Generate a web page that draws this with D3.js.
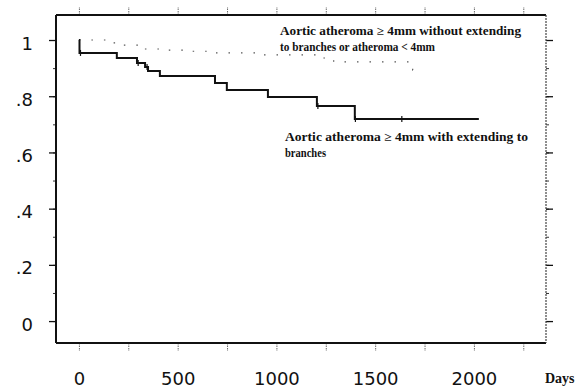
<!DOCTYPE html>
<html>
<head>
<meta charset="utf-8">
<script src="https://cdn.jsdelivr.net/npm/d3@7"></script>
<style>
  body { margin: 0; background: #fff; }
  svg { display: block; }
</style>
</head>
<body>
<svg id="chart" width="583" height="388"></svg>
<script>
// survival curves
var daysExt = [0, 3, 192, 294, 335, 350, 410, 689, 749, 957, 1205, 1397, 2025];
var survExt = [1, 0.954, 0.936, 0.918, 0.904, 0.89, 0.872, 0.847, 0.822, 0.797, 0.765, 0.719, 0.719];
var censorExt = [8, 300, 345, 1210, 1400, 1635];

var daysNoExt = [0, 150, 200, 330, 450, 560, 650, 930, 1195, 1290, 1690, 1740];
var survNoExt = [1, 0.99, 0.982, 0.968, 0.964, 0.96, 0.954, 0.947, 0.936, 0.922, 0.893, 0.893];

var xTicks = [0, 500, 1000, 1500, 2000];
var xMinor = [0, 250, 500, 750, 1000, 1250, 1500, 1750, 2000, 2250];
var yTicks = [0, 0.2, 0.4, 0.6, 0.8, 1];
var yTickLabels = ["0", ".2", ".4", ".6", ".8", "1"];
var yMinor = [0, 0.1, 0.2, 0.3, 0.4, 0.5, 0.6, 0.7, 0.8, 0.9, 1];

var labelNoExt = ["Aortic atheroma \u2265 4mm without extending", "to branches or atheroma < 4mm"];
var labelExt = ["Aortic atheroma \u2265 4mm with extending to", "branches"];

var svg = d3.select("#chart");
var plotLeft = 56, plotRight = 546, plotTop = 15, plotBottom = 343;

var x = d3.scaleLinear().domain([-116, 2365]).range([plotLeft, plotRight]);
var y = d3.scaleLinear().domain([-0.078, 1.089]).range([plotBottom, plotTop]);

// minor ticks, all four sides
svg.append("g")
    .attr("transform", "translate(0," + plotBottom + ")")
    .call(d3.axisBottom(x).tickValues(xMinor).tickSize(8).tickFormat(""))
    .call(function (g) { g.select(".domain").remove(); })
    .selectAll("line").attr("stroke", "#666").attr("stroke-dasharray", "1.5,1");

svg.append("g")
    .attr("transform", "translate(0," + plotTop + ")")
    .call(d3.axisTop(x).tickValues(xMinor).tickSize(8).tickFormat(""))
    .call(function (g) { g.select(".domain").remove(); })
    .selectAll("line").attr("stroke", "#666").attr("stroke-dasharray", "1.5,1");

svg.append("g")
    .attr("transform", "translate(" + plotLeft + ",0)")
    .call(d3.axisLeft(y).tickValues(yMinor).tickSize(3).tickFormat(""))
    .call(function (g) { g.select(".domain").remove(); })
    .selectAll("line").attr("stroke", "#333");

svg.append("g")
    .attr("transform", "translate(" + plotRight + ",0)")
    .call(d3.axisRight(y).tickValues(yMinor).tickSize(3).tickFormat(""))
    .call(function (g) { g.select(".domain").remove(); })
    .selectAll("line").attr("stroke", "#333");

// major ticks + labels
var yAxis = svg.append("g")
    .attr("transform", "translate(" + plotLeft + ",0)")
    .call(d3.axisLeft(y).tickValues(yTicks).tickSize(7).tickPadding(16)
        .tickFormat(function (d, i) { return yTickLabels[i]; }));
yAxis.select(".domain").remove();
yAxis.selectAll("line").attr("stroke", "#111").attr("stroke-width", 1.3);
yAxis.selectAll("text")
    .attr("font-family", "DejaVu Sans, Verdana, sans-serif")
    .attr("font-size", 18)
    .attr("fill", "#111")
    .attr("dy", "0.5em");

svg.append("g")
    .attr("transform", "translate(" + plotRight + ",0)")
    .call(d3.axisRight(y).tickValues(yTicks).tickSize(7).tickFormat(""))
    .call(function (g) { g.select(".domain").remove(); })
    .selectAll("line").attr("stroke", "#111").attr("stroke-width", 1.3);

var xAxis = svg.append("g")
    .attr("transform", "translate(0," + plotBottom + ")")
    .call(d3.axisBottom(x).tickValues(xTicks).tickSize(0).tickPadding(29)
        .tickFormat(d3.format("d")));
xAxis.select(".domain").remove();
xAxis.selectAll("text")
    .attr("font-family", "DejaVu Sans, Verdana, sans-serif")
    .attr("font-size", 18)
    .attr("fill", "#111");

// frame
svg.append("line").attr("x1", plotLeft).attr("x2", plotRight).attr("y1", plotTop).attr("y2", plotTop)
    .attr("stroke", "#111").attr("stroke-width", 2);
svg.append("line").attr("x1", plotLeft).attr("x2", plotRight).attr("y1", plotBottom).attr("y2", plotBottom)
    .attr("stroke", "#111").attr("stroke-width", 2);
svg.append("line").attr("x1", plotLeft).attr("x2", plotLeft).attr("y1", plotTop).attr("y2", plotBottom)
    .attr("stroke", "#111").attr("stroke-width", 2);
svg.append("line").attr("x1", plotRight).attr("x2", plotRight).attr("y1", plotTop).attr("y2", plotBottom)
    .attr("stroke", "#444").attr("stroke-width", 1.2).attr("stroke-dasharray", "2,1");

svg.append("text")
    .attr("x", 545).attr("y", 383)
    .attr("font-family", "Liberation Serif, Times New Roman, serif")
    .attr("font-weight", "bold")
    .attr("font-size", 14)
    .attr("fill", "#111")
    .text("Days");

// curves
var step = d3.line()
    .x(function (d) { return x(d[0]); })
    .y(function (d) { return y(d[1]); })
    .curve(d3.curveStepAfter);

svg.append("path")
    .datum(d3.zip(daysNoExt, survNoExt))
    .attr("d", step)
    .attr("fill", "none")
    .attr("stroke", "#555")
    .attr("stroke-width", 1.2)
    .attr("stroke-dasharray", "1.5,11");

svg.append("path")
    .datum(d3.zip(daysExt, survExt))
    .attr("d", step)
    .attr("fill", "none")
    .attr("stroke", "#111")
    .attr("stroke-width", 2);

// censor marks on the lower curve
function survAt(t) {
    var i = d3.bisectRight(daysExt, t) - 1;
    return survExt[Math.max(0, i)];
}
svg.selectAll(".censor")
    .data(censorExt)
    .enter()
    .append("line")
    .classed("censor", true)
    .attr("x1", function (d) { return x(d); })
    .attr("x2", function (d) { return x(d); })
    .attr("y1", function (d) { return y(survAt(d)) - 3; })
    .attr("y2", function (d) { return y(survAt(d)) + 3; })
    .attr("stroke", "#111")
    .attr("stroke-width", 1.2);

// annotations, widths measured on the reference
function addLabel(lines, widths, x0, y0) {
    var t = svg.append("g");
    lines.forEach(function (s, i) {
        t.append("text")
            .attr("x", x0).attr("y", y0 + i * 16)
            .attr("font-family", "Liberation Serif, Times New Roman, serif")
            .attr("font-weight", "bold")
            .attr("font-size", 12)
            .attr("fill", "#111")
            .attr("textLength", widths[i])
            .attr("lengthAdjust", "spacingAndGlyphs")
            .text(s);
    });
}
addLabel(labelNoExt, [241, 155], 280, 35);
addLabel(labelExt, [243, 41], 285, 141);
</script>
</body>
</html>
